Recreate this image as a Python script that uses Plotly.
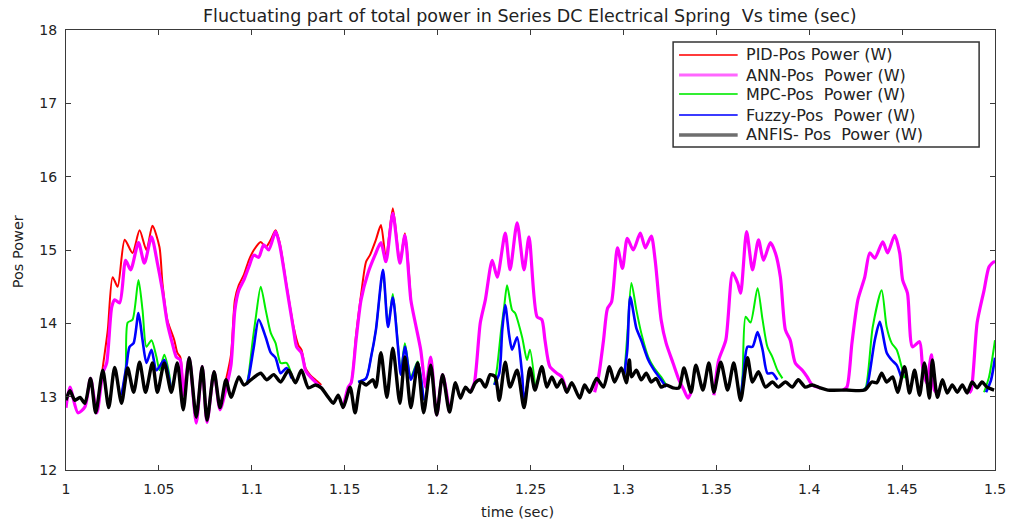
import plotly.graph_objects as go

# ---------------- data ----------------
series_names = ["PID-Pos Power (W)", "ANN-Pos  Power (W)", "MPC-Pos  Power (W)",
                "Fuzzy-Pos  Power (W)", "ANFIS- Pos  Power (W)"]

x_ticks = [1, 1.05, 1.1, 1.15, 1.2, 1.25, 1.3, 1.35, 1.4, 1.45, 1.5]
x_tick_labels = ["1", "1.05", "1.1", "1.15", "1.2", "1.25", "1.3", "1.35", "1.4", "1.45", "1.5"]
y_ticks = [12, 13, 14, 15, 16, 17, 18]

# ANFIS (black) - full trace
t_anfis = [1.0000, 1.0021, 1.0048, 1.0075, 1.0102, 1.0132, 1.0160, 1.0198, 1.0230, 1.0262,
           1.0299, 1.0332, 1.0364, 1.0396, 1.0428, 1.0465, 1.0492, 1.0529, 1.0567, 1.0599,
           1.0631, 1.0663, 1.0701, 1.0733, 1.0759, 1.0797, 1.0829, 1.0861, 1.0888, 1.0930,
           1.0957, 1.0995, 1.1048, 1.1080, 1.1118, 1.1155, 1.1198, 1.1235, 1.1267, 1.1305,
           1.1342, 1.1374, 1.1412, 1.1439, 1.1465, 1.1492, 1.1529, 1.1556, 1.1588, 1.1615,
           1.1652, 1.1668, 1.1695, 1.1727, 1.1759, 1.1797, 1.1824, 1.1856, 1.1893, 1.1925,
           1.1963, 1.1995, 1.2027, 1.2064, 1.2096, 1.2123, 1.2150, 1.2176, 1.2203, 1.2230,
           1.2257, 1.2283, 1.2310, 1.2332, 1.2364, 1.2390, 1.2428, 1.2465, 1.2497, 1.2524,
           1.2561, 1.2588, 1.2615, 1.2642, 1.2668, 1.2695, 1.2722, 1.2765, 1.2791, 1.2818,
           1.2856, 1.2893, 1.2925, 1.2952, 1.2989, 1.3016, 1.3032, 1.3043, 1.3070, 1.3096,
           1.3123, 1.3150, 1.3176, 1.3203, 1.3230, 1.3267, 1.3299, 1.3326, 1.3364, 1.3390,
           1.3428, 1.3460, 1.3487, 1.3524, 1.3561, 1.3594, 1.3631, 1.3668, 1.3695, 1.3727,
           1.3765, 1.3802, 1.3834, 1.3872, 1.3909, 1.3941, 1.3979, 1.4016, 1.4059, 1.4100,
           1.4200, 1.4299, 1.4337, 1.4364, 1.4390, 1.4417, 1.4449, 1.4476, 1.4513, 1.4540,
           1.4567, 1.4594, 1.4620, 1.4647, 1.4663, 1.4690, 1.4717, 1.4743, 1.4770, 1.4797,
           1.4824, 1.4850, 1.4877, 1.4904, 1.4930, 1.4957, 1.4995]
p_anfis = [12.95, 13.08, 12.95, 12.99, 12.91, 13.25, 12.78, 13.36, 12.85, 13.40,
           12.91, 13.39, 13.06, 13.47, 13.06, 13.46, 13.06, 13.46, 13.06, 13.46,
           12.82, 13.53, 12.72, 13.41, 12.68, 13.34, 12.85, 13.23, 12.99, 13.27,
           13.16, 13.23, 13.32, 13.23, 13.30, 13.20, 13.36, 13.19, 13.36, 13.12,
           13.16, 13.12, 12.99, 12.91, 13.02, 12.85, 13.13, 12.78, 13.20, 13.16,
           13.23, 13.13, 13.60, 12.99, 13.66, 12.91, 13.54, 12.85, 13.46, 12.78,
           13.43, 12.75, 13.30, 12.79, 13.19, 12.98, 13.13, 13.06, 13.19, 13.23,
           13.13, 13.30, 13.27, 12.95, 13.47, 13.13, 13.36, 12.85, 13.39, 13.09,
           13.41, 13.13, 13.27, 13.13, 13.23, 13.06, 13.19, 12.98, 13.16, 13.06,
           13.25, 13.13, 13.41, 13.20, 13.39, 13.19, 13.50, 13.27, 13.36, 13.23,
           13.32, 13.20, 13.25, 13.13, 13.16, 13.12, 13.12, 13.39, 13.06, 13.43,
           13.09, 13.46, 13.06, 13.47, 13.09, 13.46, 12.95, 13.53, 13.20, 13.34,
           13.13, 13.20, 13.13, 13.20, 13.13, 13.23, 13.13, 13.16, 13.12, 13.09,
           13.09, 13.09, 13.20, 13.19, 13.32, 13.20, 13.27, 13.06, 13.41, 13.05,
           13.36, 13.02, 13.46, 12.98, 13.50, 12.99, 13.23, 13.05, 13.16, 13.06,
           13.16, 13.05, 13.20, 13.12, 13.20, 13.13, 13.09]

# ANN (magenta) - pulse segments (None separates segments; elsewhere hidden under black)
t_ann = [1.0000, 1.0021, 1.0064, 1.0102, 1.0132, 1.0166, 1.0198, 1.0219, 1.0246, 1.0262,
         1.0289, 1.0321, 1.0348, 1.0390, 1.0422, 1.0460, 1.0492, 1.0519, 1.0545, 1.0572,
         1.0594, 1.0615, 1.0631, 1.0663, 1.0701, 1.0733, 1.0759, 1.0797, 1.0829, 1.0866,
         1.0888, 1.0909, 1.0930, 1.0957, 1.0984, 1.1011, 1.1037, 1.1064, 1.1091, 1.1128,
         1.1150, 1.1187, 1.1225, 1.1241, 1.1267, 1.1289, 1.1305, 1.1342, 1.1374, None,
         1.1492, 1.1519, 1.1535, 1.1561, 1.1588, 1.1626, 1.1663, 1.1695, 1.1722, 1.1759,
         1.1797, 1.1824, 1.1856, 1.1882, 1.1909, 1.1936, 1.1963, 1.1995, 1.2027, 1.2064, None,
         1.2176, 1.2198, 1.2230, 1.2257, 1.2294, 1.2321, 1.2364, 1.2390, 1.2428, 1.2465,
         1.2492, 1.2535, 1.2561, 1.2578, 1.2604, 1.2642, 1.2668, 1.2695, None,
         1.2845, 1.2866, 1.2893, 1.2914, 1.2936, 1.2968, 1.2995, 1.3021, 1.3053, 1.3091,
         1.3118, 1.3150, 1.3171, 1.3203, 1.3230, 1.3267, 1.3299, 1.3326, 1.3348, 1.3364, None,
         1.3487, 1.3513, 1.3551, 1.3588, 1.3615, 1.3631, 1.3663, 1.3695, 1.3727, 1.3754,
         1.3791, 1.3818, 1.3845, 1.3872, 1.3898, 1.3925, 1.3963, 1.3989, 1.4016, 1.4059, None,
         1.4182, 1.4203, 1.4230, 1.4262, 1.4299, 1.4326, 1.4353, 1.4396, 1.4422, 1.4460,
         1.4487, 1.4503, 1.4529, 1.4556, 1.4594, 1.4610, 1.4631, 1.4658, 1.4674, 1.4701, None,
         1.4861, 1.4872, 1.4904, 1.4941, 1.4968, 1.4995, 1.5000]
p_ann = [12.85, 13.13, 12.78, 12.86, 13.25, 12.78, 13.32, 13.46, 14.22, 14.32,
         14.28, 14.86, 14.73, 15.10, 14.82, 15.18, 14.82, 14.45, 14.01, 13.73,
         13.54, 13.50, 13.02, 13.53, 12.64, 13.41, 12.65, 13.34, 12.82, 13.16,
         13.43, 14.18, 14.45, 14.59, 14.77, 14.93, 14.90, 15.07, 15.00, 15.25,
         15.07, 14.50, 13.91, 13.68, 13.60, 13.36, 13.30, 13.20, 13.12, None,
         12.85, 13.13, 13.19, 13.77, 14.32, 14.69, 14.93, 15.10, 14.84, 15.50,
         14.82, 15.20, 14.32, 13.98, 13.64, 13.13, 13.54, 12.75, 13.30, 12.79, None,
         13.06, 13.19, 14.01, 14.32, 14.86, 14.63, 15.23, 14.73, 15.37, 14.73,
         15.18, 14.09, 14.05, 13.77, 13.41, 13.32, 13.27, 13.06, None,
         13.06, 13.27, 13.77, 14.20, 14.29, 15.03, 14.75, 15.16, 15.00, 15.23,
         15.03, 15.19, 14.86, 14.05, 13.73, 13.46, 13.23, 13.09, 12.98, 13.06, None,
         13.02, 13.50, 13.77, 14.69, 14.55, 14.41, 15.25, 14.73, 15.14, 14.86,
         15.10, 14.96, 14.63, 13.91, 13.77, 13.46, 13.36, 13.27, 13.16, 13.12, None,
         13.09, 13.13, 13.73, 14.32, 14.63, 14.96, 14.89, 15.11, 14.96, 15.20,
         14.96, 14.59, 14.41, 13.68, 13.75, 13.41, 13.19, 13.57, 13.09, 13.02, None,
         13.05, 13.09, 14.01, 14.45, 14.77, 14.84, 14.82]

# PID (red) - where it differs from ANN
t_pid = [1.0166, 1.0198, 1.0225, 1.0251, 1.0278, 1.0316, 1.0358, 1.0396, 1.0433, 1.0465, 1.0503,
         1.0519, 1.0545, 1.0583, 1.0599, 1.0615, 1.0631, None,
         1.0861, 1.0888, 1.0909, 1.0930, 1.0957, 1.0984, 1.1011, 1.1048, 1.1075, 1.1102,
         1.1128, 1.1150, 1.1187, 1.1225, 1.1251, 1.1267, 1.1289, 1.1316, 1.1342, 1.1374, None,
         1.1519, 1.1535, 1.1561, 1.1588, 1.1615, 1.1636, 1.1668, 1.1695, 1.1722, 1.1759, 1.1797,
         1.1824, 1.1856]
p_pid = [12.78, 13.40, 13.91, 14.63, 14.50, 15.14, 14.96, 15.27, 15.00, 15.33, 15.04,
         14.55, 14.05, 13.77, 13.60, 13.54, 13.02, None,
         13.23, 13.57, 14.32, 14.52, 14.66, 14.86, 15.00, 15.11, 15.04, 15.14,
         15.27, 15.10, 14.52, 13.95, 13.70, 13.64, 13.39, 13.29, 13.23, 13.16, None,
         13.13, 13.19, 13.84, 14.39, 14.84, 14.93, 15.14, 15.34, 14.89, 15.57, 14.84,
         15.23, 14.32]

# MPC (green) - pulse segments
t_mpc = [1.0299, 1.0321, 1.0332, 1.0358, 1.0390, 1.0412, 1.0433, 1.0460, 1.0487, 1.0503,
         1.0529, 1.0556, 1.0567, None,
         1.0973, 1.0984, 1.1005, 1.1021, 1.1048, 1.1075, 1.1102, 1.1128, 1.1155, 1.1187, 1.1214, None,
         1.1572, 1.1615, 1.1642, 1.1668, 1.1706, 1.1733, 1.1759, 1.1786, 1.1802, 1.1824,
         1.1856, 1.1893, 1.1925, None,
         1.2305, 1.2321, 1.2342, 1.2358, 1.2374, 1.2401, 1.2417, 1.2455, 1.2481, 1.2497, 1.2524, None,
         1.3005, 1.3021, 1.3043, 1.3070, 1.3096, 1.3134, 1.3166, 1.3203, 1.3230, None,
         1.3631, 1.3642, 1.3658, 1.3684, 1.3722, 1.3749, 1.3775, 1.3802, 1.3829, 1.3856, None,
         1.4289, 1.4305, 1.4342, 1.4390, 1.4417, 1.4444, 1.4471, 1.4497, 1.4513, None,
         1.4941, 1.4968, 1.5000]
p_mpc = [13.02, 13.36, 14.01, 14.05, 14.59, 14.18, 13.68, 13.77, 13.54, 13.36,
         13.57, 13.30, 13.06, None,
         13.16, 13.32, 13.77, 14.07, 14.50, 14.18, 13.87, 13.73, 13.46, 13.46, 13.30, None,
         13.20, 13.25, 13.54, 13.91, 14.70, 13.97, 14.40, 13.73, 13.34, 13.73,
         13.27, 13.48, 12.95, None,
         13.16, 13.41, 13.91, 14.22, 14.52, 14.18, 14.14, 13.81, 13.50, 13.64, 13.16, None,
         13.30, 13.84, 14.55, 14.18, 13.87, 13.54, 13.39, 13.27, 13.16, None,
         12.95, 13.32, 14.09, 14.01, 14.48, 14.05, 13.68, 13.54, 13.36, 13.25, None,
         13.09, 13.13, 13.95, 14.45, 13.95, 13.73, 13.64, 13.41, 13.25, None,
         13.06, 13.27, 13.77]

# Fuzzy (blue) - pulse segments
t_fuzzy = [1.0299, 1.0326, 1.0342, 1.0364, 1.0390, 1.0412, 1.0433, 1.0460, 1.0487, 1.0529,
           1.0556, 1.0567, None,
           1.0973, 1.0984, 1.1011, 1.1037, 1.1075, 1.1102, 1.1128, 1.1155, 1.1187, 1.1214, None,
           1.1572, 1.1615, 1.1642, 1.1668, 1.1706, 1.1733, 1.1759, 1.1786, 1.1802, 1.1824,
           1.1856, 1.1893, 1.1925, None,
           1.2305, 1.2332, 1.2348, 1.2364, 1.2385, 1.2401, 1.2428, 1.2455, 1.2465, 1.2497, None,
           1.3005, 1.3021, 1.3037, 1.3070, 1.3096, 1.3134, 1.3166, 1.3203, 1.3230, None,
           1.3631, 1.3647, 1.3668, 1.3695, 1.3722, 1.3749, 1.3775, 1.3802, 1.3829, None,
           1.4294, 1.4310, 1.4353, 1.4380, 1.4417, 1.4444, 1.4471, 1.4497, None,
           1.4952, 1.4979, 1.5000]
p_fuzzy = [13.02, 13.43, 13.68, 13.73, 14.14, 13.77, 13.46, 13.64, 13.36, 13.50,
           13.23, 13.06, None,
           13.16, 13.27, 13.68, 14.05, 13.81, 13.60, 13.53, 13.32, 13.39, 13.25, None,
           13.20, 13.25, 13.54, 13.91, 14.73, 13.95, 14.35, 13.70, 13.30, 13.68,
           13.23, 13.46, 12.95, None,
           13.16, 13.32, 13.91, 14.25, 13.84, 13.64, 13.81, 13.30, 12.95, 13.36, None,
           13.30, 13.64, 14.36, 13.93, 13.77, 13.50, 13.36, 13.23, 13.13, None,
           12.95, 13.32, 13.68, 13.68, 13.88, 13.64, 13.32, 13.32, 13.23, None,
           13.09, 13.13, 13.77, 14.02, 13.60, 13.50, 13.43, 13.25, None,
           13.06, 13.23, 13.53]

# ---------------- figure ----------------
FONT = "DejaVu Sans, Verdana, sans-serif"
TXT = "#222222"
colors = ["#ff0000", "#ff00ff", "#00ee00", "#0000ff", "#000000"]
widths = [2, 3.2, 2, 2.6, 3.4]
legend_colors = ["#ff3b3b", "#ff66ff", "#33ee33", "#3b3bff", "#6e6e6e"]
legend_widths = [2, 3, 2, 2, 3.5]

series = [(t_pid, p_pid), (t_ann, p_ann), (t_mpc, p_mpc), (t_fuzzy, p_fuzzy), (t_anfis, p_anfis)]

fig = go.Figure()
for (tt, pp), name, c, w in zip(series, series_names, colors, widths):
    fig.add_trace(go.Scatter(x=tt, y=pp, mode="lines", name=name,
                             line=dict(color=c, width=w, shape="spline", smoothing=0.7),
                             connectgaps=False, showlegend=False))

axis_common = dict(showline=True, linecolor="#3a3a3a", linewidth=1, mirror="ticks",
                   ticks="inside", ticklen=5, tickcolor="#3a3a3a", showgrid=False,
                   zeroline=False, tickfont=dict(family=FONT, size=14, color=TXT))

fig.update_xaxes(range=[1, 1.5], tickvals=x_ticks, ticktext=x_tick_labels,
                 ticklabelstandoff=6, **axis_common)
fig.update_yaxes(range=[12, 18], tickvals=y_ticks, ticklabelstandoff=5, **axis_common)

# Legend drawn as a MATLAB-style box
shapes = [dict(type="rect", xref="paper", yref="paper", x0=0.6535, x1=0.9829, y0=0.7341, y1=0.9727,
               line=dict(color="#333333", width=1.5), fillcolor="white", layer="above")]
annotations = []
row_y = [0.9432, 0.8977, 0.8545, 0.8068, 0.7614]
for name, c, w, ry in zip(series_names, legend_colors, legend_widths, row_y):
    shapes.append(dict(type="line", xref="paper", yref="paper", x0=0.6599, x1=0.7230, y0=ry, y1=ry,
                       line=dict(color=c, width=w), layer="above"))
    annotations.append(dict(xref="paper", yref="paper", x=0.7294, y=ry, text=name, showarrow=False,
                            xanchor="left", yanchor="middle",
                            font=dict(family=FONT, size=16, color=TXT)))

annotations.append(dict(xref="paper", yref="paper", x=0.4995, y=1.0, yshift=14,
                        text="Fluctuating part of total power in Series DC Electrical Spring  Vs time (sec)",
                        showarrow=False, xanchor="center", yanchor="middle",
                        font=dict(family=FONT, size=17.5, color=TXT)))
annotations.append(dict(xref="paper", yref="paper", x=0.4856, y=0, yshift=-42,
                        text="time (sec)", showarrow=False, xanchor="center", yanchor="middle",
                        font=dict(family=FONT, size=14.5, color=TXT)))
annotations.append(dict(xref="paper", yref="paper", x=-0.0513, y=0.4955,
                        text="Pos Power", showarrow=False, textangle=-90,
                        xanchor="center", yanchor="middle",
                        font=dict(family=FONT, size=14.5, color=TXT)))

fig.update_layout(width=1018, height=522, margin=dict(l=66, r=17, t=30, b=52),
                  paper_bgcolor="white", plot_bgcolor="white",
                  shapes=shapes, annotations=annotations, showlegend=False)

fig.write_html("out.html")
